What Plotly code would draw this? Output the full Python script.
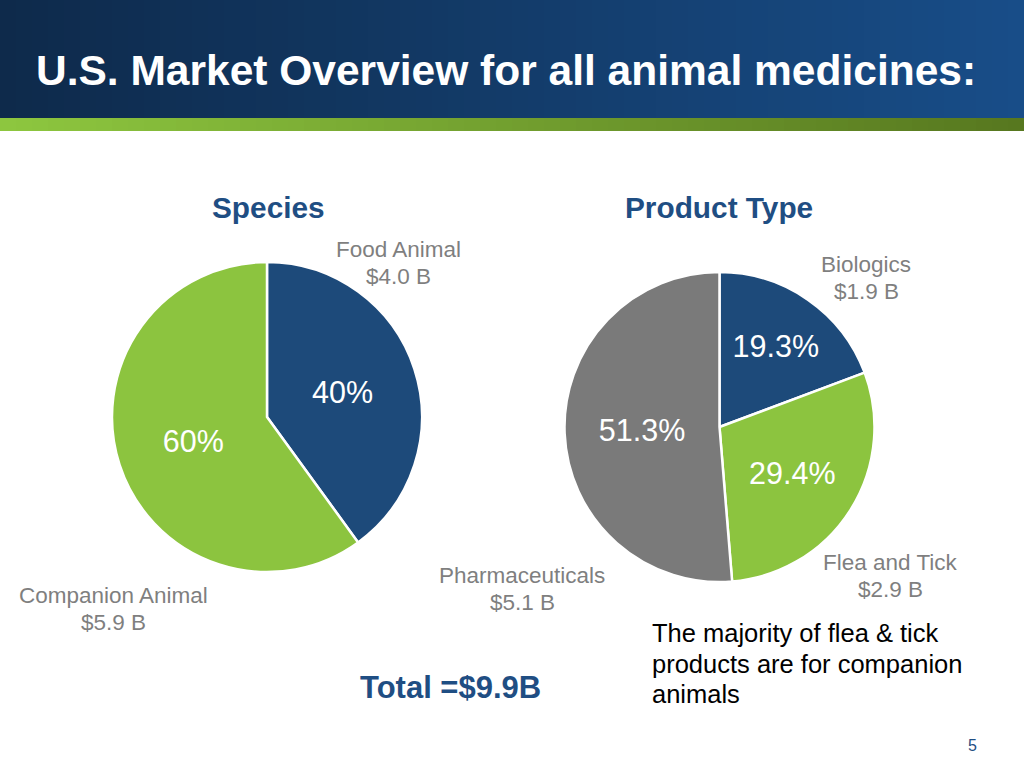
import plotly.graph_objects as go

# ---- data ----
species_labels = ["Food Animal", "Companion Animal"]
species_share = [40, 60]
species_text = ["40%", "60%"]
species_dollars = ["$4.0 B", "$5.9 B"]

product_labels = ["Biologics", "Flea and Tick", "Pharmaceuticals"]
product_share = [19.3, 29.4, 51.3]
product_text = ["19.3%", "29.4%", "51.3%"]
product_dollars = ["$1.9 B", "$2.9 B", "$5.1 B"]

total_text = "Total =$9.9B"
title_text = "U.S. Market Overview for all animal medicines:"
note_lines = ["The majority of flea & tick", "products are for companion", "animals"]

W, H = 1024, 768
BLUE = "#1d4a7a"
GREEN = "#8cc43f"
GRAY = "#7a7a7a"
TITLE_BLUE = "#1f4e83"
LABEL_GRAY = "#7f7f7f"


def px(x):
    return x / W


def py(y):
    return 1 - y / H


def mix(c1, c2, t):
    a = [int(c1[i:i + 2], 16) for i in (1, 3, 5)]
    b = [int(c2[i:i + 2], 16) for i in (1, 3, 5)]
    return "#%02x%02x%02x" % tuple(round(a[k] + (b[k] - a[k]) * t) for k in range(3))


fig = go.Figure()

fig.add_trace(go.Pie(
    labels=species_labels, values=species_share, text=species_text,
    texttemplate="%{text}", textposition="inside", insidetextorientation="horizontal",
    textfont=dict(size=30.5, color="white", family="Liberation Sans, Arial, sans-serif"),
    marker=dict(colors=[BLUE, GREEN], line=dict(color="white", width=2.5)),
    sort=False, direction="clockwise", rotation=0, showlegend=False, hoverinfo="label+percent",
    domain=dict(x=[px(112), px(422)], y=[py(572), py(262)]),
))

fig.add_trace(go.Pie(
    labels=product_labels, values=product_share, text=product_text,
    texttemplate="%{text}", textposition="inside", insidetextorientation="horizontal",
    textfont=dict(size=30.5, color="white", family="Liberation Sans, Arial, sans-serif"),
    marker=dict(colors=[BLUE, GREEN, GRAY], line=dict(color="white", width=2.5)),
    sort=False, direction="clockwise", rotation=0, showlegend=False, hoverinfo="label+percent",
    domain=dict(x=[px(564), px(875)], y=[py(582), py(272)]),
))

# ---- header gradient strips ----
shapes = []
N = 64
for i in range(N):
    t = i / (N - 1)
    x0, x1 = i / N, (i + 1) / N + 0.002
    shapes.append(dict(type="rect", xref="paper", yref="paper", x0=x0, x1=x1,
                       y0=py(118), y1=1.0, fillcolor=mix("#0e2a4b", "#184d88", t),
                       line=dict(width=0), layer="below"))
    shapes.append(dict(type="rect", xref="paper", yref="paper", x0=x0, x1=x1,
                       y0=py(131), y1=py(118), fillcolor=mix("#8dc63f", "#57781f", t),
                       line=dict(width=0), layer="below"))

FONT = "Liberation Sans, Arial, sans-serif"
ann = []
ann.append(dict(x=px(34), y=py(71), xref="paper", yref="paper", text="<b>" + title_text + "</b>",
                showarrow=False, xanchor="left", yanchor="middle",
                font=dict(family="Liberation Sans Narrow, Arial Narrow, Liberation Sans, sans-serif",
                          size=42.5, color="white")))

ann.append(dict(x=px(268), y=py(207), xref="paper", yref="paper", text="<b>Species</b>",
                showarrow=False, xanchor="center", yanchor="middle",
                font=dict(family=FONT, size=29.8, color=TITLE_BLUE)))
ann.append(dict(x=px(719), y=py(207), xref="paper", yref="paper", text="<b>Product Type</b>",
                showarrow=False, xanchor="center", yanchor="middle",
                font=dict(family=FONT, size=29.8, color=TITLE_BLUE)))

# outside category labels (name line y, dollar line y)
label_pos = {
    "Food Animal": (398, 249, 276),
    "Companion Animal": (113, 595, 622),
    "Biologics": (866, 264, 291),
    "Flea and Tick": (890, 562, 589),
    "Pharmaceuticals": (522, 575, 602),
}
for lab, dol in list(zip(species_labels, species_dollars)) + list(zip(product_labels, product_dollars)):
    x, y1, y2 = label_pos[lab]
    for txt, yy in ((lab, y1), (dol, y2)):
        ann.append(dict(x=px(x), y=py(yy), xref="paper", yref="paper", text=txt,
                        showarrow=False, xanchor="center", yanchor="middle", align="center",
                        font=dict(family=FONT, size=22.5, color=LABEL_GRAY)))

ann.append(dict(x=px(450), y=py(687), xref="paper", yref="paper", text="<b>" + total_text + "</b>",
                showarrow=False, xanchor="center", yanchor="middle",
                font=dict(family=FONT, size=31, color=TITLE_BLUE)))

for line, yy in zip(note_lines, (633, 663.5, 694)):
    ann.append(dict(x=px(650), y=py(yy), xref="paper", yref="paper", text=line,
                    showarrow=False, xanchor="left", yanchor="middle", align="left",
                    font=dict(family=FONT, size=25.5, color="black")))

ann.append(dict(x=px(972), y=py(745), xref="paper", yref="paper", text="5",
                showarrow=False, xanchor="center", yanchor="middle",
                font=dict(family=FONT, size=16, color=TITLE_BLUE)))

fig.update_layout(
    width=W, height=H, margin=dict(l=0, r=0, t=0, b=0),
    paper_bgcolor="white", plot_bgcolor="white",
    shapes=shapes, annotations=ann,
)

fig.write_html(
    "out.html",
    config={"displayModeBar": False},
    post_script="document.body.style.margin='0px';document.body.style.overflow='hidden';",
)
